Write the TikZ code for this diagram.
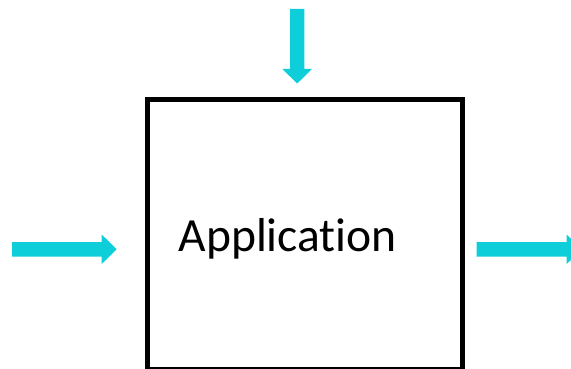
\documentclass[tikz,border=0pt]{standalone}
\usepackage{fontspec}
\setmainfont[Ligatures={NoCommon}]{Carlito}
\definecolor{arrowcyan}{RGB}{14,206,218}
\begin{document}
\begin{tikzpicture}[x=1pt,y=-1pt,
  blockarrow/.style={fill=arrowcyan,draw=none},
  appbox/.style={draw=black,line width=5pt,fill=white}]
\useasboundingbox (0,0) rectangle (571,369);
\begin{scope}
\clip (0,0) rectangle (571,369);
\draw[appbox] (147,99.5) rectangle (462,369.3);
\end{scope}
\node[anchor=base,inner sep=0pt,font=\fontsize{47.6}{50}\selectfont] (app) at (287.7,251.7) {Application};
% top arrow
\fill[blockarrow] (290,9) -- (304.3,9) -- (304.3,69) -- (312,69) -- (297.2,83.5) -- (282.3,69) -- (290,69) -- cycle;
% left arrow
\fill[blockarrow] (12,242) -- (101.7,242) -- (101.7,234.5) -- (116.7,249.3) -- (101.7,264) -- (101.7,256.7) -- (12,256.7) -- cycle;
% right arrow
\begin{scope}
\clip (0,0) rectangle (571,369);
\fill[blockarrow] (476.7,242) -- (566.7,242) -- (566.7,234.5) -- (581.7,249.3) -- (566.7,264) -- (566.7,256.7) -- (476.7,256.7) -- cycle;
\end{scope}
\end{tikzpicture}
\end{document}
